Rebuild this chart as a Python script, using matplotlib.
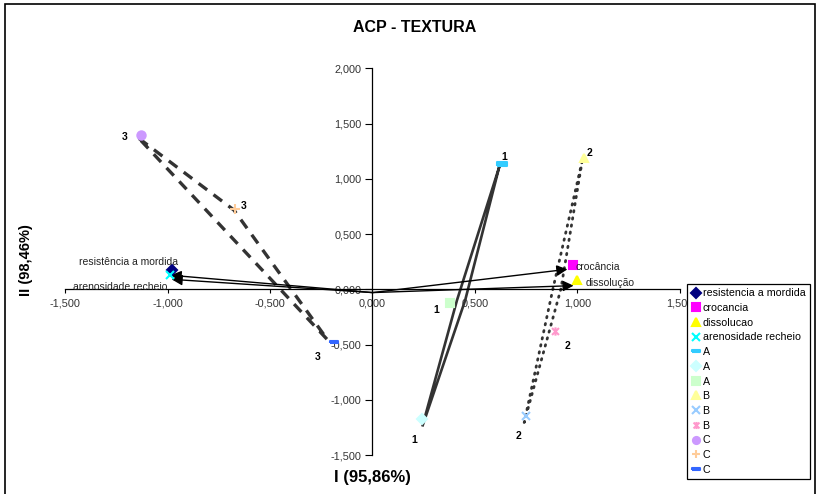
import matplotlib
matplotlib.use("Agg")
import matplotlib.pyplot as plt
from matplotlib.path import Path
from matplotlib.lines import Line2D
from matplotlib.patches import Rectangle

plt.rcParams['font.family'] = ['Liberation Sans', 'DejaVu Sans']

# attribute loadings (points and arrow tips)
attr_names = ['resistencia a mordida', 'crocancia', 'dissolucao', 'arenosidade recheio']
attr_labels = ['resistência a mordida', 'crocância', 'dissolução', 'arenosidade recheio']
attr_x = [-0.98, 0.98, 1.00, -0.99]
attr_y = [0.17, 0.22, 0.08, 0.13]
arrow_start = (0.0, -0.03)
arrow_tip_x = [-0.985, 0.951, 0.981, -0.98]
arrow_tip_y = [0.127, 0.181, 0.033, 0.09]
attr_text_x = [-1.43, 0.99, 1.04, -1.46]
attr_text_y = [0.25, 0.205, 0.06, 0.024]

# samples A, B, C (three replicates each)
sample_names = ['A', 'A', 'A', 'B', 'B', 'B', 'C', 'C', 'C']
sample_x = [0.63, 0.24, 0.38, 1.03, 0.75, 0.89, -1.13, -0.67, -0.19]
sample_y = [1.13, -1.175, -0.127, 1.19, -1.145, -0.38, 1.40, 0.73, -0.48]

# replicate numbers written next to the points
rep_text = ['1', '1', '1', '2', '2', '2', '3', '3', '3']
rep_x = [0.642, 0.309, 0.206, 1.059, 0.952, 0.712, -1.208, -0.627, -0.268]
rep_y = [1.193, -0.188, -1.362, 1.230, -0.513, -1.332, 1.380, 0.753, -0.610]

# hand drawn outlines round each group
grp1_x = [0.618, 0.452, 0.243, 0.412, 0.618]
grp1_y = [1.106, -0.10, -1.242, -0.10, 1.106]
grp2_x = [1.023, 0.919, 0.740, 0.880, 1.023]
grp2_y = [1.163, 0.003, -1.206, 0.003, 1.163]
grp3_x = [-1.139, -0.676, -0.219, -1.139]
grp3_y = [1.365, 0.717, -0.458, 1.365]

x_ticks = [-1.5, -1.0, -0.5, 0.0, 0.5, 1.0, 1.5]
y_ticks = [-1.5, -1.0, -0.5, 0.0, 0.5, 1.0, 1.5, 2.0]

# excel-like markers
dash = Path([(-1, -0.35), (1, -0.35), (1, 0.35), (-1, 0.35), (-1, -0.35)])
star = Path([(-1, -1), (1, 1), (-1, 1), (1, -1), (0, -1.2), (0, 1.2)],
            [Path.MOVETO, Path.LINETO, Path.MOVETO, Path.LINETO, Path.MOVETO, Path.LINETO])

attr_style = [('D', '#000080', 5.5), ('s', '#FF00FF', 6), ('^', '#FFFF00', 6), ('x', '#00FFFF', 6)]
sample_style = [(dash, '#33CCFF', 7), ('D', '#CCFFFF', 5.5), ('s', '#CCFFCC', 6),
                ('^', '#FFFF99', 6), ('x', '#99CCFF', 6), (star, '#FF99CC', 6),
                ('o', '#CC99FF', 6), ('+', '#FFCC99', 7), (dash, '#3366FF', 6)]

fig = plt.figure(figsize=(8.17, 4.94), dpi=100)
ax = fig.add_axes([65 / 817, 1 - 455 / 494, 615 / 817, (455 - 68.3) / 494])
ax.set_xlim(-1.5, 1.5)
ax.set_ylim(-1.5, 2.0)

# axes through the origin
for s in ['top', 'right']:
    ax.spines[s].set_visible(False)
ax.spines['left'].set_position(('data', 0))
ax.spines['bottom'].set_position(('data', 0))
ax.spines['left'].set_linewidth(0.9)
ax.spines['bottom'].set_linewidth(0.9)
ax.set_xticks(x_ticks)
ax.set_yticks(y_ticks)
ax.set_xticklabels([f'{v:.3f}'.replace('.', ',') for v in x_ticks])
ax.set_yticklabels([f'{v:.3f}'.replace('.', ',') for v in y_ticks])
ax.tick_params(axis='x', direction='out', length=3, width=0.8, labelsize=7.8, labelcolor='#333333', pad=4)
ax.tick_params(axis='y', direction='out', length=5, width=0.8, labelsize=7.8, labelcolor='#333333', pad=3)

# group outlines
ax.plot(grp1_x, grp1_y, color='#333333', lw=1.9, solid_joinstyle='miter', zorder=2)
ax.plot(grp2_x, grp2_y, color='#333333', lw=2.0, linestyle=(0, (0.5, 2.1)),
        dash_capstyle='round', zorder=2)
ax.plot(grp3_x, grp3_y, color='#333333', lw=2.4, linestyle=(0, (3.2, 2.4)), zorder=2)

# loading arrows
for tx, ty in zip(arrow_tip_x, arrow_tip_y):
    ax.annotate('', xy=(tx, ty), xytext=arrow_start,
                arrowprops=dict(arrowstyle='-|>', color='black', lw=1.0,
                                mutation_scale=16, shrinkA=0, shrinkB=0), zorder=3)

handles = []
for name, x, y, (m, c, ms) in zip(attr_names, attr_x, attr_y, attr_style):
    ax.plot(x, y, linestyle='none', marker=m, color=c, ms=ms, mew=1.5, zorder=4)
    handles.append(Line2D([], [], linestyle='none', marker=m, color=c, ms=ms * 0.85, mew=1.5, label=name))
for name, x, y, (m, c, ms) in zip(sample_names, sample_x, sample_y, sample_style):
    ax.plot(x, y, linestyle='none', marker=m, color=c, ms=ms, mew=1.5, zorder=4)
    handles.append(Line2D([], [], linestyle='none', marker=m, color=c, ms=ms * 0.85, mew=1.5, label=name))

for t, x, y in zip(attr_labels, attr_text_x, attr_text_y):
    ax.text(x, y, t, fontsize=7.5, color='#222222', ha='left', va='center', zorder=5)
for t, x, y in zip(rep_text, rep_x, rep_y):
    ax.text(x, y, t, fontsize=7.5, fontweight='bold', ha='center', va='center', zorder=5)

leg = fig.legend(handles=handles, loc='upper left', bbox_to_anchor=(687 / 817, 1 - 284 / 494),
                 borderaxespad=0, fontsize=7.7, frameon=True, fancybox=False, shadow=False,
                 handlelength=0.8, handletextpad=0.25, labelspacing=0.44, borderpad=0.4,
                 edgecolor='black', framealpha=1)
leg.get_frame().set_linewidth(0.9)

fig.text(0.508, 1 - 28 / 494, 'ACP - TEXTURA', ha='center', va='center',
         fontsize=11.5, fontweight='bold')
fig.text(372 / 817, 1 - 477 / 494, 'I (95,86%)', ha='center', va='center',
         fontsize=12, fontweight='bold')
fig.text(26 / 817, 1 - 260 / 494, 'II (98,46%)', ha='center', va='center',
         fontsize=10.5, fontweight='bold', rotation=90)

# outer chart border
fig.patches.append(Rectangle((5 / 817, -0.02), 810 / 817, 1.02 - 4 / 494, transform=fig.transFigure,
                             fill=False, edgecolor='black', lw=1.2))

fig.savefig('out.png', dpi=100)
